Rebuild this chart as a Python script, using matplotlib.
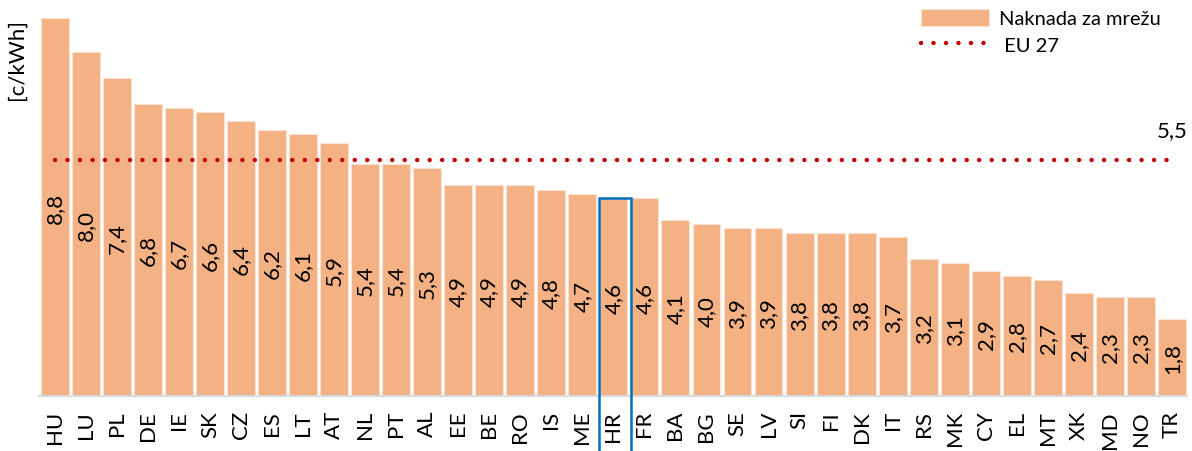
import matplotlib.pyplot as plt
from matplotlib.patches import Rectangle

countries = ['HU', 'LU', 'PL', 'DE', 'IE', 'SK', 'CZ', 'ES', 'LT', 'AT', 'NL', 'PT',
             'AL', 'EE', 'BE', 'RO', 'IS', 'ME', 'HR', 'FR', 'BA', 'BG', 'SE', 'LV',
             'SI', 'FI', 'DK', 'IT', 'RS', 'MK', 'CY', 'EL', 'MT', 'XK', 'MD', 'NO', 'TR']
values = [8.8, 8.0, 7.4, 6.8, 6.7, 6.6, 6.4, 6.2, 6.1, 5.9, 5.4, 5.4,
          5.3, 4.9, 4.9, 4.9, 4.8, 4.7, 4.6, 4.6, 4.1, 4.0, 3.9, 3.9,
          3.8, 3.8, 3.8, 3.7, 3.2, 3.1, 2.9, 2.8, 2.7, 2.4, 2.3, 2.3, 1.8]
eu27 = 5.5
highlight = 'HR'

plt.rcParams['font.family'] = ['Lato', 'DejaVu Sans']
fs = 16

fig = plt.figure(figsize=(11.92, 4.52), dpi=100)
ax = fig.add_axes([0.0331, 0.1217, 0.963, 0.8783])

x = list(range(len(countries)))
bars = ax.bar(x, values, width=0.9, color='#F4B183', edgecolor='#FBE3D3', linewidth=0.8,
              label='Naknada za mrežu', zorder=2)

for xi, v in zip(x, values):
    ax.text(xi, v / 2, f'{v:.1f}'.replace('.', ','), rotation=90, ha='center',
            va='center', fontsize=fs, color='black', zorder=4)

line, = ax.plot([x[0], x[-1]], [eu27, eu27], color='#C00000', linewidth=3.2,
                linestyle=(0, (0.01, 2.8)), dash_capstyle='round', label='EU 27', zorder=3)
ax.annotate(f'{eu27:.1f}'.replace('.', ','), xy=(x[-1], eu27), xytext=(0, 21),
            textcoords='offset points', ha='center', va='center', fontsize=fs)

i = countries.index(highlight)
ax.add_patch(Rectangle((i - 0.47, -1.4), 1.03, values[i] + 1.4, fill=False,
                       edgecolor='#0070C0', linewidth=1.8, clip_on=False, zorder=5))

ax.set_xlim(-0.5, len(countries) - 0.5)
ax.set_ylim(0, 9.24)
ax.set_xticks(x)
ax.set_xticklabels(countries, rotation=90, fontsize=fs)
ax.tick_params(axis='x', length=0, pad=10)
ax.set_yticks([])
for s in ['top', 'right', 'left']:
    ax.spines[s].set_visible(False)
ax.spines['bottom'].set_color('#D9D9D9')
ax.spines['bottom'].set_linewidth(1.5)

fig.text(17 / 1192, 1 - 60 / 452, '[c/kWh]', rotation=90, ha='center', va='center',
         fontsize=fs)

ax.legend([bars, line], ['Naknada za mrežu', ' EU 27'], loc='upper left',
          bbox_to_anchor=(0.752, 1.02), frameon=False, fontsize=14.5,
          handlelength=3.4, handleheight=0.9, handletextpad=0.5, labelspacing=0.4)

fig.savefig('out.png', dpi=100)
